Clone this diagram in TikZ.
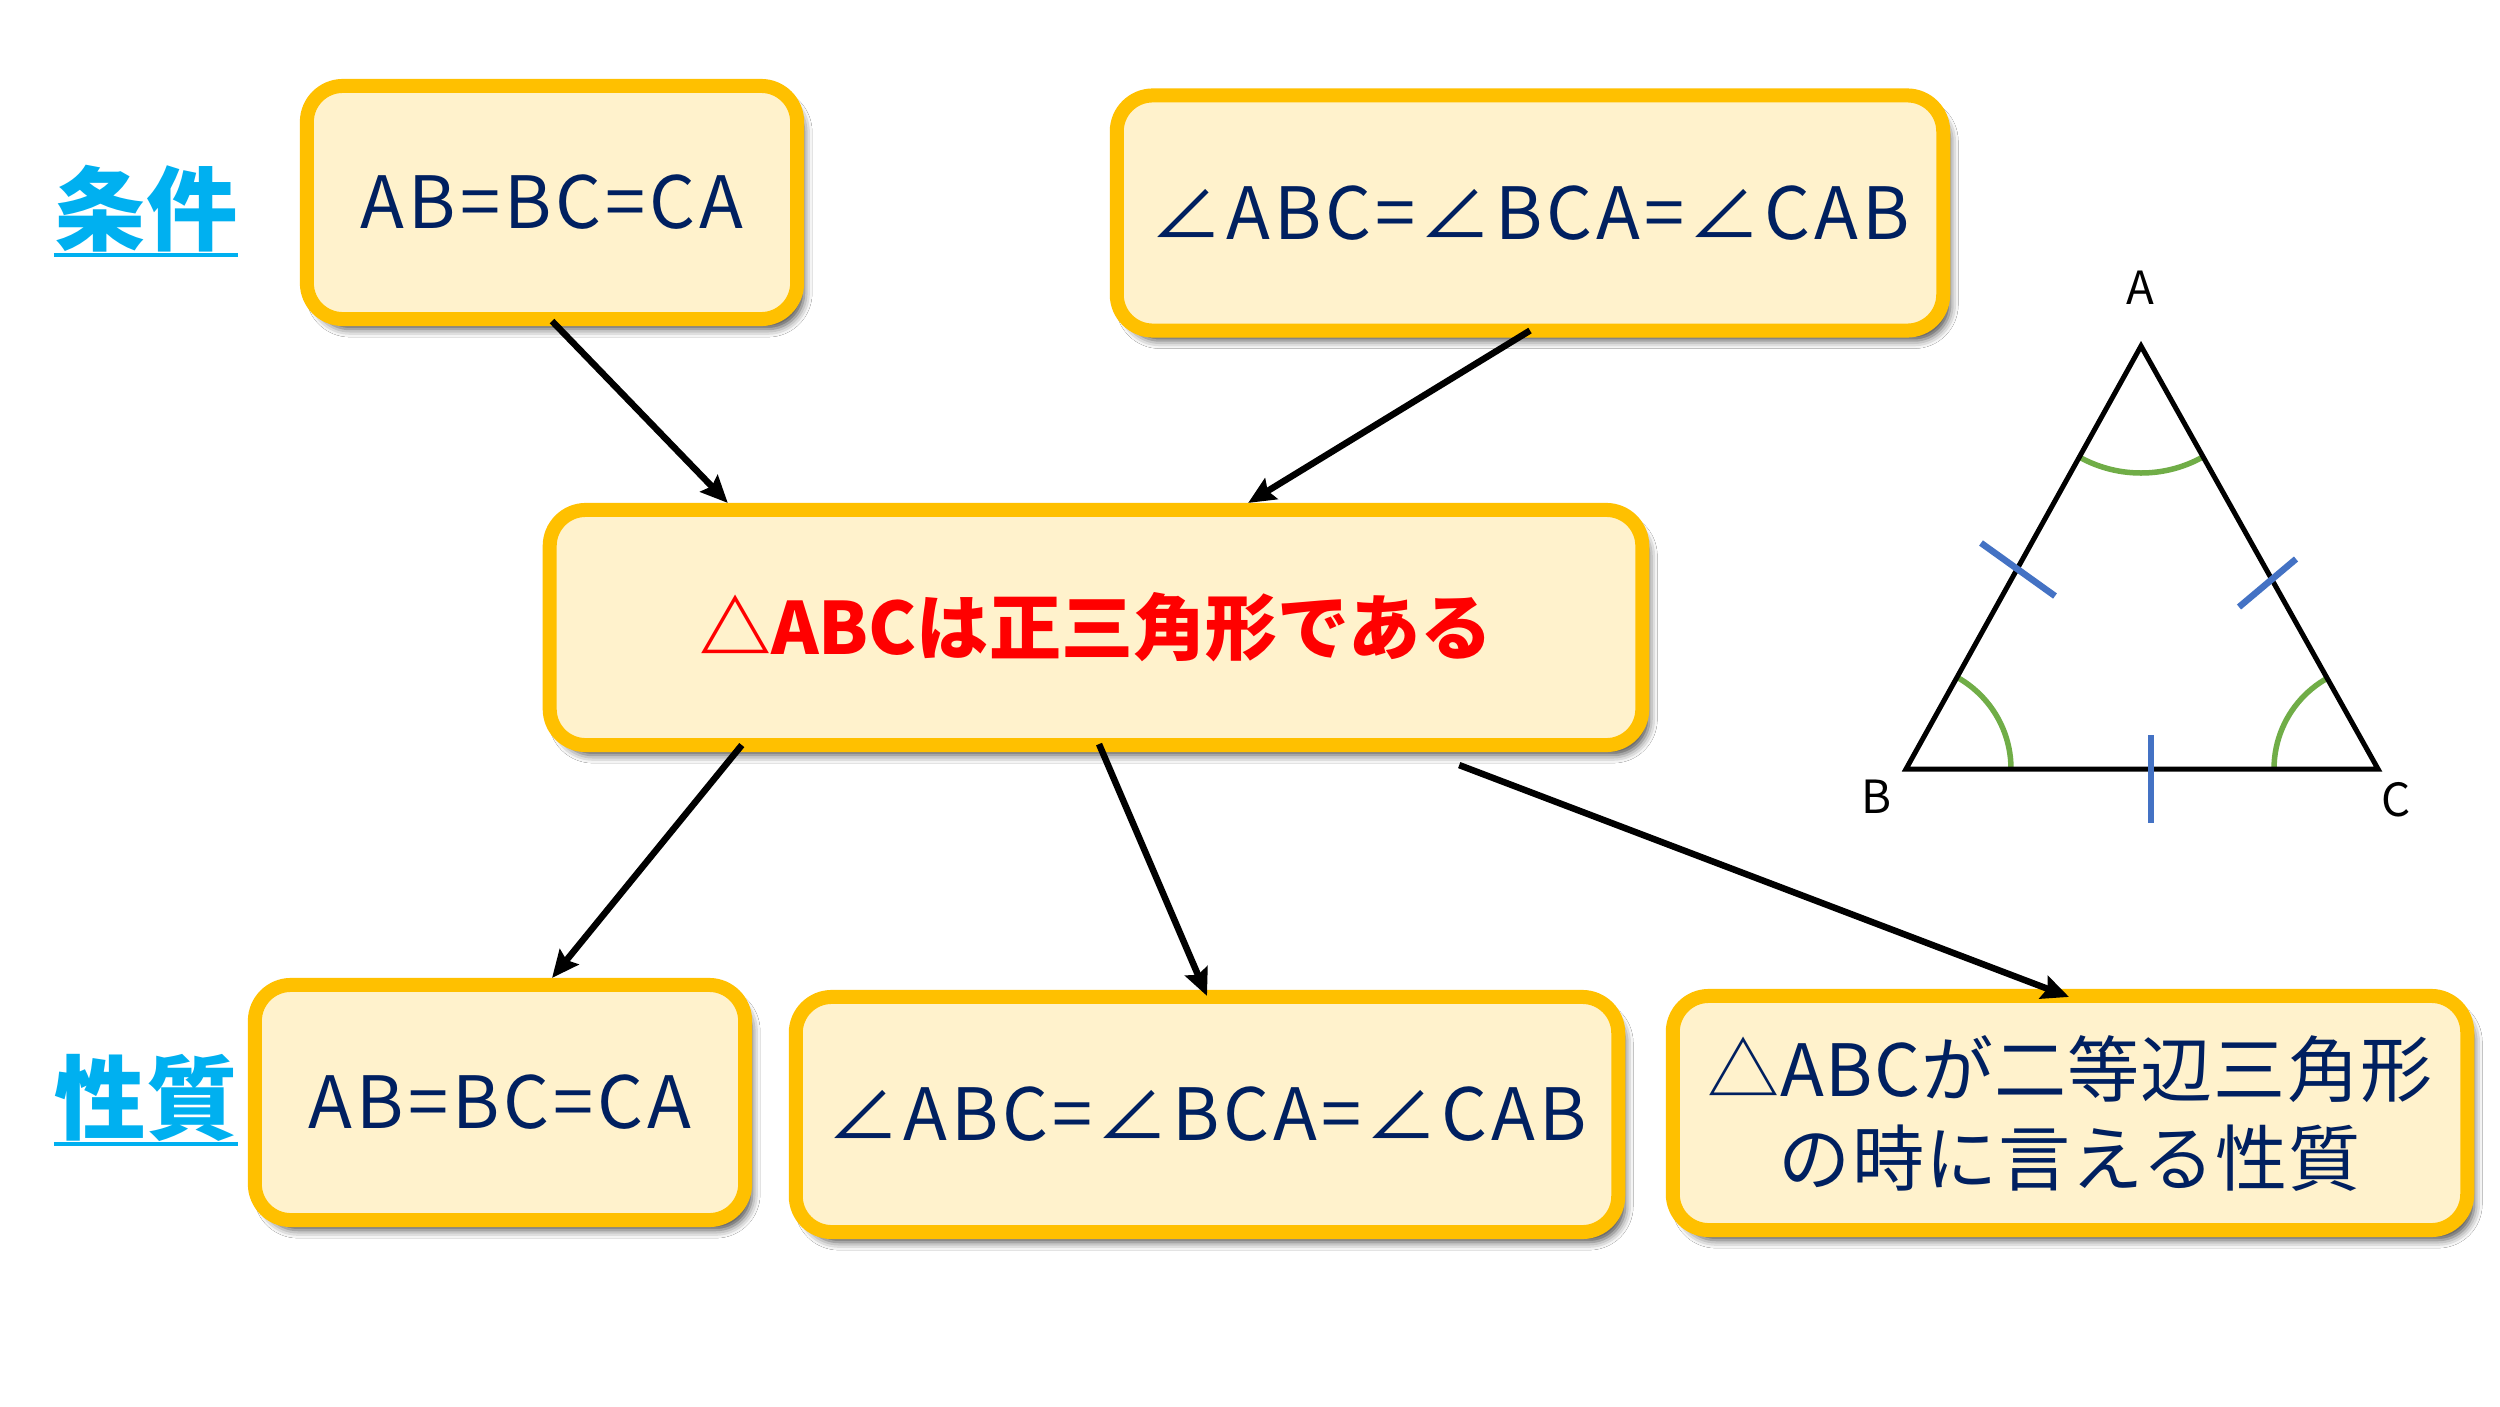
\documentclass[tikz,border=0pt]{standalone}
\usepackage{fontspec}
\setmainfont{Noto Sans CJK JP}
\newfontfamily\spacedfont{Noto Sans CJK JP}[LetterSpace=5.5]
\newfontfamily\lightspaced{Noto Sans CJK JP}[LetterSpace=1.5]
\usetikzlibrary{arrows.meta,shadows.blur,calc}
\definecolor{boxborder}{HTML}{FFC000}
\definecolor{boxfill}{HTML}{FFF2CC}
\definecolor{mynavy}{HTML}{002060}
\definecolor{labblue}{HTML}{00B0F0}
\definecolor{arcgreen}{HTML}{70AD47}
\definecolor{tickblue}{HTML}{4472C4}
\definecolor{myred}{HTML}{FF0000}
\tikzset{
  card/.style={draw=boxborder, fill=boxfill, line width=0.14cm, rounded corners=0.36cm,
    inner sep=0pt, align=center, text=mynavy, font=\fontsize{20.5}{25.3}\selectfont,
    blur shadow={shadow xshift=0.07cm, shadow yshift=-0.1cm, shadow blur radius=0.08cm, shadow opacity=70}},
  mathcard/.style={card, font=\spacedfont\fontsize{20.5}{25.3}\selectfont},
  conn/.style={line width=0.065cm, -{Stealth[length=0.27cm,width=0.24cm,inset=0.04cm]}},
  sidelab/.style={inner sep=0pt, text=labblue, font=\fontsize{26}{30}\selectfont\bfseries},
  ulinestyle/.style={draw=labblue, line width=0.035cm},
  vlab/.style={inner sep=0pt, font=\fontsize{13}{15}\selectfont},
  tickmark/.style={draw=tickblue, line width=0.065cm},
  anglemark/.style={draw=arcgreen, line width=0.055cm},
  triline/.style={draw=black, line width=0.05cm}
}
\begin{document}
\begin{tikzpicture}[x=0.01cm, y=-0.01cm]
\fill[white] (0,0) rectangle (2500,1406);
\useasboundingbox (0,0) rectangle (2500,1406);

% condition boxes
\node[mathcard, minimum width=4.90cm, minimum height=2.33cm] (b1) at (552,202.5) {AB=BC=CA};
\node[mathcard, minimum width=8.26cm, minimum height=2.35cm] (b2) at (1530,213) {∠ABC=∠BCA=∠CAB};
% center
\node[card, minimum width=10.92cm, minimum height=2.35cm] (c) at (1096,627.5)
  {\bfseries\color{myred}△ABCは正三角形である};
% property boxes
\node[mathcard, minimum width=4.90cm, minimum height=2.35cm] (d1) at (500,1102.5) {AB=BC=CA};
\node[mathcard, minimum width=8.22cm, minimum height=2.35cm] (d2) at (1207,1114.5) {∠ABC=∠BCA=∠CAB};
\node[card, font=\lightspaced\fontsize{20.5}{25.3}\selectfont, minimum width=7.94cm, minimum height=2.34cm] (d3) at (2070,1113)
  {△ABCが二等辺三角形\\の時に言える性質};

% side labels
\node[sidelab, anchor=base] (k1) at (146,243) {条件};
\draw[ulinestyle] ([yshift=-0.12cm]k1.base west) -- ([yshift=-0.12cm]k1.base east);
\node[sidelab, anchor=base] (k2) at (146,1132) {性質};
\draw[ulinestyle] ([yshift=-0.12cm]k2.base west) -- ([yshift=-0.12cm]k2.base east);

% connectors
\draw[conn] ([yshift=0.05cm]b1.south) -- ([xshift=-3.68cm]c.north);
\draw[conn] ([yshift=0.07cm]b2.south) -- ([xshift=1.52cm]c.north);
\draw[conn] ([xshift=-3.54cm,yshift=0.07cm]c.south) -- ([xshift=0.52cm]d1.north);
\draw[conn] ([xshift=0.03cm,yshift=0.08cm]c.south) -- ([yshift=-0.06cm]d2.north);
\draw[conn] ([xshift=3.63cm,yshift=-0.13cm]c.south) -- ([xshift=-0.01cm,yshift=-0.08cm]d3.north);

% triangle
\coordinate (A) at (2141,346);
\coordinate (B) at (1906,769);
\coordinate (C) at (2378,769);
\begin{scope}
  \clip (A) -- (B) -- (C) -- cycle;
  \draw[anglemark] (A) circle[radius=127];
  \draw[anglemark] (B) circle[radius=105];
  \draw[anglemark] (C) circle[radius=104];
\end{scope}
\draw[triline] (A) -- (B) -- (C) -- cycle;
\draw[tickmark] (1981,543) -- (2055,596);
\draw[tickmark] (2296,559) -- (2239,607);
\draw[tickmark] (2151,735) -- (2151,823);
\node[vlab] (la) at (2140,288) {A};
\node[vlab] (lb) at (1876,797) {B};
\node[vlab] (lc) at (2396,800) {C};
\end{tikzpicture}
\end{document}
